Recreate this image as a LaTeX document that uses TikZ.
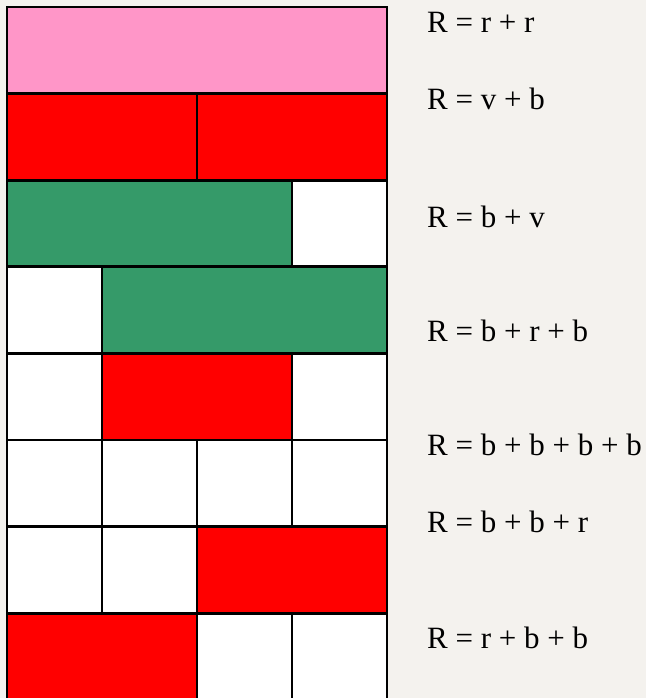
\documentclass[tikz,border=0pt]{standalone}
\usepackage{fontspec}
\setmainfont{Liberation Serif}
\definecolor{bgbeige}{HTML}{F4F2EE}
\definecolor{rosepink}{HTML}{FF96C8}
\definecolor{brightred}{HTML}{FF0000}
\definecolor{seagreen}{HTML}{359A69}
\begin{document}
\begin{tikzpicture}[
  x=1pt, y=-1pt,
  cell/.style={rectangle, draw=black, line width=2.8pt, inner sep=0pt, outer sep=0pt,
    anchor=north west, minimum height=86.6pt, minimum width=95pt, fill=white},
  half/.style={cell, minimum width=190pt},
  triple/.style={cell, minimum width=285pt},
  full/.style={cell, minimum width=380pt},
  rule/.style={anchor=base west, font=\fontsize{31}{31}\selectfont, inner sep=0pt}
]
\useasboundingbox (0,0) rectangle (646,698);
\fill[bgbeige] (0,0) rectangle (646,698);
\clip (0,0) rectangle (646,698);

% Row 1
\node[full, fill=rosepink] (aa) at (7,7) {};
% Row 2
\node[half, fill=brightred] (ba) at (7,93.6) {};
\node[half, fill=brightred] (bb) at (197,93.6) {};
% Row 3
\node[triple, fill=seagreen] (ca) at (7,180.2) {};
\node[cell] (cb) at (292,180.2) {};
% Row 4
\node[cell] (da) at (7,266.8) {};
\node[triple, fill=seagreen] (db) at (102,266.8) {};
% Row 5
\node[cell] (ea) at (7,353.4) {};
\node[half, fill=brightred] (eb) at (102,353.4) {};
\node[cell] (ec) at (292,353.4) {};
% Row 6
\node[cell] (fa) at (7,440) {};
\node[cell] (fb) at (102,440) {};
\node[cell] (fc) at (197,440) {};
\node[cell] (fd) at (292,440) {};
% Row 7
\node[cell] (ga) at (7,526.6) {};
\node[cell] (gb) at (102,526.6) {};
\node[half, fill=brightred] (gc) at (197,526.6) {};
% Row 8
\node[half, fill=brightred] (ha) at (7,613.2) {};
\node[cell] (hb) at (197,613.2) {};
\node[cell] (hc) at (292,613.2) {};

% Rules
\node[rule] (ruleone) at (427,33) {R = r + r};
\node[rule] (ruletwo) at (427,110) {R = v + b};
\node[rule] (rulethree) at (427,227) {R = b + v};
\node[rule] (rulefour) at (427,341) {R = b + r + b};
\node[rule] (rulefive) at (427,455) {R = b + b + b + b};
\node[rule] (rulesix) at (427,532) {R = b + b + r};
\node[rule] (ruleseven) at (427,648) {R = r + b + b};

\end{tikzpicture}
\end{document}
